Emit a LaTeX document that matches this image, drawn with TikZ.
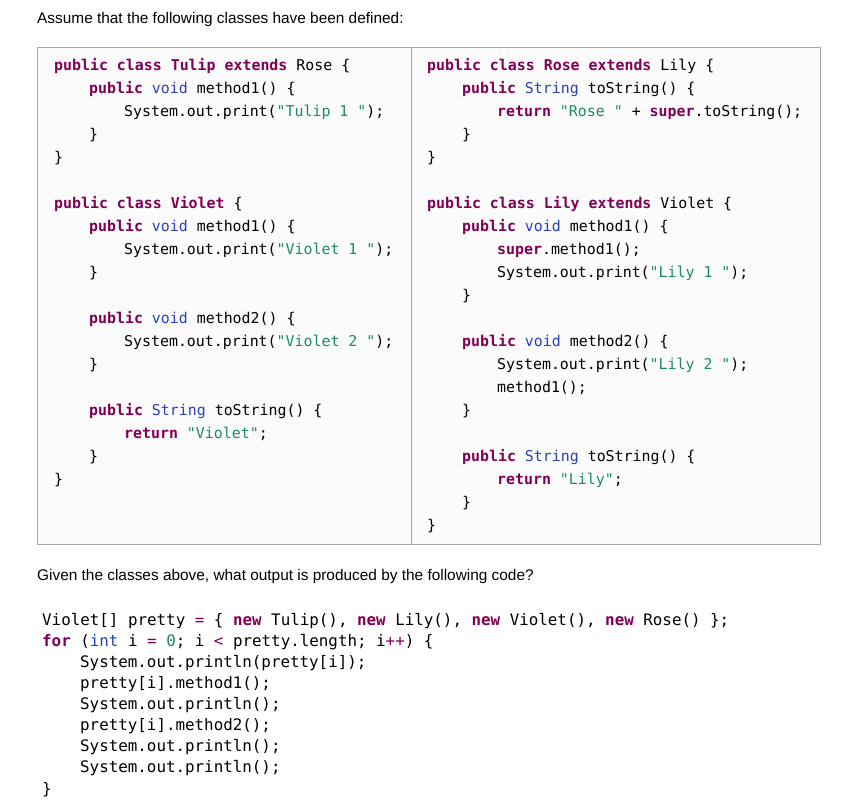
\documentclass[tikz,border=0pt]{standalone}
\usepackage{fontspec}
\setmainfont{Liberation Sans}
\setmonofont{DejaVu Sans Mono}
\definecolor{kw}{HTML}{7F0055}
\definecolor{ty}{HTML}{2A3FC0}
\definecolor{st}{HTML}{1A8A6A}
\newcommand{\kw}[1]{\textcolor{kw}{\bfseries #1}}
\newcommand{\ty}[1]{\textcolor{ty}{#1}}
\newcommand{\st}[1]{\textcolor{st}{#1}}
\begin{document}
\begin{tikzpicture}[x=1pt,y=-1pt,
  c/.style={anchor=west,inner sep=0pt,font=\ttfamily\fontsize{14.9}{15}\selectfont},
  b/.style={anchor=west,inner sep=0pt,font=\ttfamily\fontsize{15.85}{16}\selectfont},
  t/.style={anchor=west,inner sep=0pt,font=\fontsize{15.4}{17}\selectfont}]
\useasboundingbox (0,0) rectangle (862,811);
\fill[white] (0,0) rectangle (862,811);
\draw[gray!70,fill=gray!3] (37,47) rectangle (820,544);
\draw[gray!70] (411,47) -- (411,544);
\node[t] (h1) at (37,20) {Assume that the following classes have been defined:};
\node[t] (h2) at (37,577) {Given the classes above, what output is produced by the following code?};
% left column
\node[c] (l1) at (54,66) {\kw{public class Tulip extends} Rose \{};
\node[c] (l2) at (89,89) {\kw{public} \ty{void} method1() \{};
\node[c] (l3) at (124,112) {System.out.print(\st{"Tulip 1 "});};
\node[c] (l4) at (89,135) {\}};
\node[c] (l5) at (54,158) {\}};
\node[c] (l6) at (54,204) {\kw{public class Violet} \{};
\node[c] (l7) at (89,227) {\kw{public} \ty{void} method1() \{};
\node[c] (l8) at (124,250) {System.out.print(\st{"Violet 1 "});};
\node[c] (l9) at (89,273) {\}};
\node[c] (l10) at (89,319) {\kw{public} \ty{void} method2() \{};
\node[c] (l11) at (124,342) {System.out.print(\st{"Violet 2 "});};
\node[c] (l12) at (89,365) {\}};
\node[c] (l13) at (89,411) {\kw{public} \ty{String} toString() \{};
\node[c] (l14) at (124,434) {\kw{return} \st{"Violet"};};
\node[c] (l15) at (89,457) {\}};
\node[c] (l16) at (54,480) {\}};
% right column
\node[c] (r1) at (427,66) {\kw{public class Rose extends} Lily \{};
\node[c] (r2) at (462,89) {\kw{public} \ty{String} toString() \{};
\node[c] (r3) at (497,112) {\kw{return} \st{"Rose "} + \kw{super}.toString();};
\node[c] (r4) at (462,135) {\}};
\node[c] (r5) at (427,158) {\}};
\node[c] (r6) at (427,204) {\kw{public class Lily extends} Violet \{};
\node[c] (r7) at (462,227) {\kw{public} \ty{void} method1() \{};
\node[c] (r8) at (497,250) {\kw{super}.method1();};
\node[c] (r9) at (497,273) {System.out.print(\st{"Lily 1 "});};
\node[c] (r10) at (462,296) {\}};
\node[c] (r11) at (462,342) {\kw{public} \ty{void} method2() \{};
\node[c] (r12) at (497,365) {System.out.print(\st{"Lily 2 "});};
\node[c] (r13) at (497,388) {method1();};
\node[c] (r14) at (462,411) {\}};
\node[c] (r15) at (462,457) {\kw{public} \ty{String} toString() \{};
\node[c] (r16) at (497,480) {\kw{return} \st{"Lily"};};
\node[c] (r17) at (462,503) {\}};
\node[c] (r18) at (427,526) {\}};
% bottom code
\node[b] (b1) at (42,621) {Violet[] pretty \textcolor{kw}{=} \{ \kw{new} Tulip(), \kw{new} Lily(), \kw{new} Violet(), \kw{new} Rose() \};};
\node[b] (b2) at (42,642) {\kw{for} (\ty{int} i \textcolor{kw}{=} \st{0}; i \textcolor{kw}{<} pretty.length; i\textcolor{kw}{++}) \{};
\node[b] (b3) at (80,663) {System.out.println(pretty[i]);};
\node[b] (b4) at (80,684) {pretty[i].method1();};
\node[b] (b5) at (80,705) {System.out.println();};
\node[b] (b6) at (80,726) {pretty[i].method2();};
\node[b] (b7) at (80,747) {System.out.println();};
\node[b] (b8) at (80,768) {System.out.println();};
\node[b] (b9) at (42,790) {\}};
\end{tikzpicture}
\end{document}
